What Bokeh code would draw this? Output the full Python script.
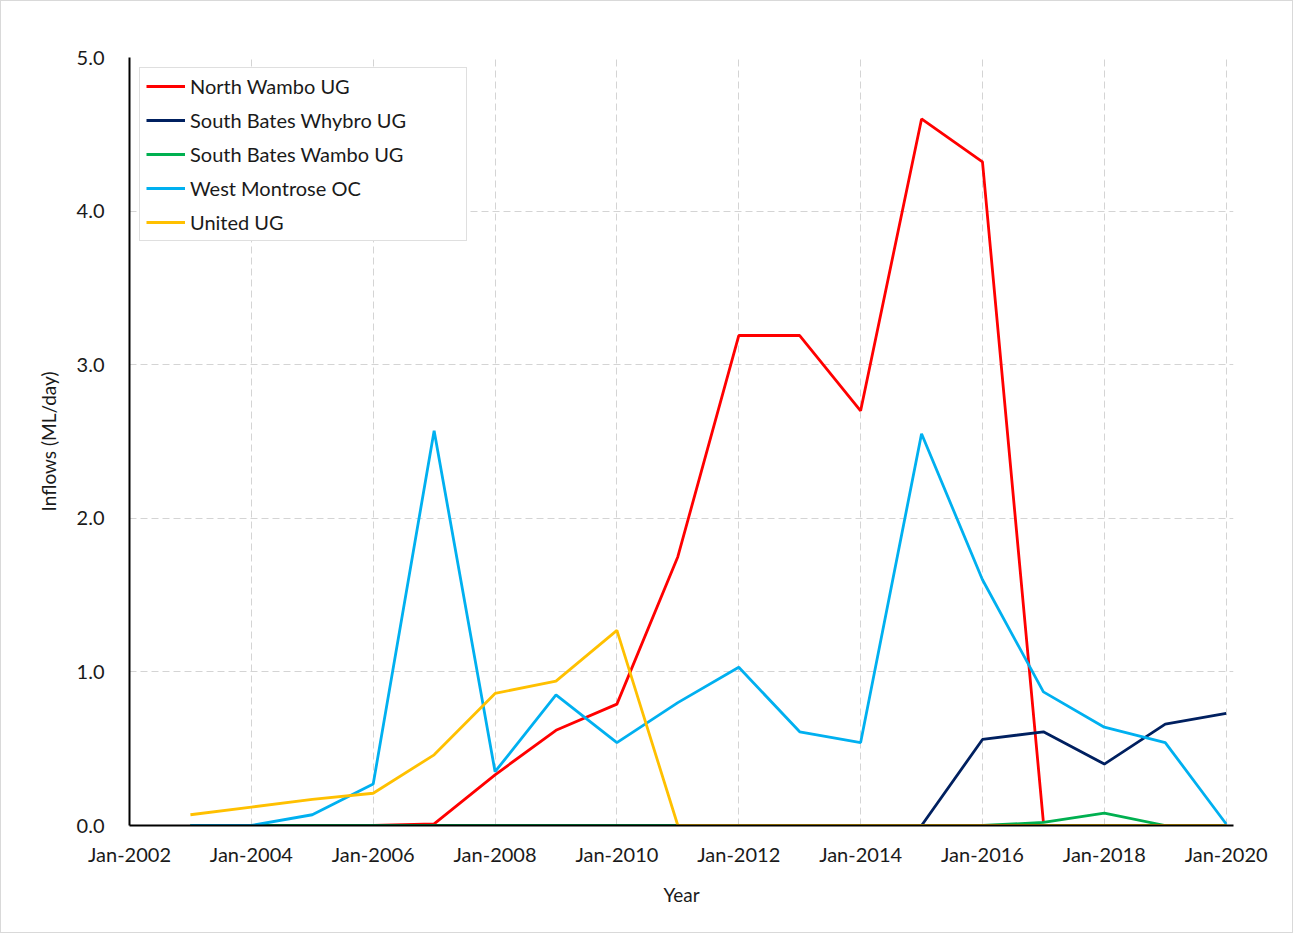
from bokeh.plotting import figure
from bokeh.models import Legend, LegendItem, Range1d, FixedTicker, ColumnDataSource
from bokeh.embed import file_html
from bokeh.resources import INLINE

years = [2003, 2004, 2005, 2006, 2007, 2008, 2009, 2010, 2011, 2012,
         2013, 2014, 2015, 2016, 2017, 2018, 2019, 2020]
north_wambo = [None, None, None, 0.0, 0.01, 0.33, 0.62, 0.79, 1.75, 3.19,
               3.19, 2.70, 4.60, 4.32, 0.02, None, None, None]
south_bates_whybro = [None, None, None, None, None, None, None, None, None, None,
                      None, None, 0.0, 0.56, 0.61, 0.40, 0.66, 0.73]
south_bates_wambo = [0.0, 0.0, 0.0, 0.0, 0.0, 0.0, 0.0, 0.0, 0.0, 0.0,
                     0.0, 0.0, 0.0, 0.0, 0.02, 0.08, 0.0, 0.0]
west_montrose = [0.0, 0.0, 0.07, 0.27, 2.57, 0.35, 0.85, 0.54, 0.80, 1.03,
                 0.61, 0.54, 2.55, 1.60, 0.87, 0.64, 0.54, 0.01]
united = [0.07, 0.12, 0.17, 0.21, 0.46, 0.86, 0.94, 1.27, 0.0, 0.0,
          0.0, 0.0, 0.0, 0.0, 0.0, 0.0, 0.0, 0.0]

series_names = ["North Wambo UG", "South Bates Whybro UG", "South Bates Wambo UG",
                "West Montrose OC", "United UG"]
series_values = [north_wambo, south_bates_whybro, south_bates_wambo, west_montrose, united]
series_colors = ["#FF0000", "#002060", "#00B050", "#00B0F0", "#FFC000"]

x_ticks = [2002, 2004, 2006, 2008, 2010, 2012, 2014, 2016, 2018, 2020]
x_tick_labels = ["Jan-%d" % y for y in x_ticks]
y_ticks = [0, 1, 2, 3, 4, 5]
y_tick_labels = ["%.1f" % v for v in y_ticks]

FONT = "Lato"

p = figure(width=1293, height=933, output_backend="svg", toolbar_location=None,
           x_range=Range1d(2002, 2020.12), y_range=Range1d(0, 5),
           min_border_left=128, min_border_right=61, min_border_top=56, min_border_bottom=109)
p.outline_line_color = None
p.background_fill_color = "white"
p.border_fill_color = "white"
p.styles = {"border": "1px solid #d9d9d9"}

items = []
for name, vals, col in zip(series_names, series_values, series_colors):
    src = ColumnDataSource(dict(x=years, y=[float("nan") if v is None else v for v in vals]))
    r = p.line("x", "y", source=src, line_color=col, line_width=2.8)
    items.append(LegendItem(label=name, renderers=[r]))

p.xaxis.ticker = FixedTicker(ticks=x_ticks)
p.xaxis.major_label_overrides = {t: l for t, l in zip(x_ticks, x_tick_labels)}
p.yaxis.ticker = FixedTicker(ticks=y_ticks)
p.yaxis.major_label_overrides = {t: l for t, l in zip(y_ticks, y_tick_labels)}

for ax in (p.xaxis[0], p.yaxis[0]):
    ax.major_tick_line_color = None
    ax.minor_tick_line_color = None
    ax.axis_line_color = "black"
    ax.axis_line_width = 2
    ax.major_label_text_font = FONT
    ax.major_label_text_font_size = "20px"
    ax.major_label_text_color = "#1a1a1a"
    ax.axis_label_text_font = FONT
    ax.axis_label_text_font_size = "19px"
    ax.axis_label_text_font_style = "normal"
    ax.axis_label_text_color = "#1a1a1a"

p.xaxis.axis_label = "Year"
p.yaxis.axis_label = "Inflows (ML/day)"
p.xaxis.major_label_standoff = 10
p.yaxis.major_label_standoff = 19
p.xaxis.axis_label_standoff = 14
p.yaxis.axis_label_standoff = 14

p.xgrid.grid_line_color = "#d4d4d4"
p.ygrid.grid_line_color = "#d4d4d4"
p.xgrid.grid_line_dash = "7 4"
p.ygrid.grid_line_dash = "7 4"
p.xgrid.grid_line_width = 1
p.ygrid.grid_line_width = 1

legend = Legend(items=items, location="top_left")
legend.margin = 10
legend.padding = 6
legend.spacing = 10
legend.glyph_width = 39
legend.glyph_height = 22
legend.label_height = 22
legend.label_width = 270
legend.label_standoff = 5
legend.label_text_font = FONT
legend.label_text_font_size = "20px"
legend.label_text_color = "#1a1a1a"
legend.border_line_color = "#bfbfbf"
legend.border_line_width = 1
legend.background_fill_color = "white"
legend.background_fill_alpha = 1
p.add_layout(legend)

open("out.html", "w").write(file_html(p, INLINE))
